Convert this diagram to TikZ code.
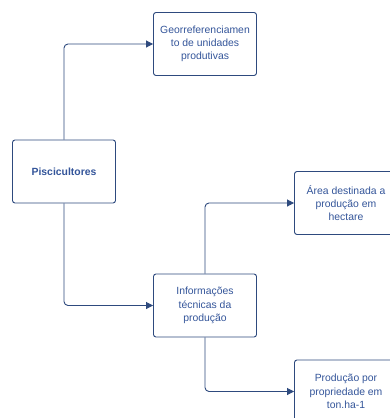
\documentclass[tikz,border=0pt]{standalone}
\usepackage{fontspec}
\setmainfont{Liberation Sans}
\usetikzlibrary{arrows.meta}
\definecolor{lineblue}{HTML}{2E4A7E}
\definecolor{textblue}{HTML}{34559A}
\begin{document}
\begin{tikzpicture}[x=1pt,y=-1pt,
  box/.style={draw=lineblue, line width=0.9pt, rounded corners=2.5pt, fill=white,
    minimum width=103pt, minimum height=63pt, align=center, text=textblue,
    font=\fontsize{10.4}{13.3}\selectfont, inner sep=1pt},
  conn/.style={draw=lineblue, line width=0.9pt, rounded corners=4pt,
    -{Triangle[length=7pt,width=7pt]}}]
\useasboundingbox (0,0) rectangle (390,418);
\clip (0,0) rectangle (390,418);
\node[box] (geo) at (205,44) {Georreferenciamen\\to de unidades\\produtivas};
\node[box] (pisc) at (64,171.5) {\textbf{Piscicultores}};
\node[box] (info) at (205,305.5) {Informações\\técnicas da\\produção};
\node[box] (area) at (346,203) {Área destinada a\\produção em\\hectare};
\node[box] (prod) at (346,391.5) {Produção por\\propriedade em\\ton.ha-1};
\draw[conn] (pisc.north) |- (geo.west);
\draw[conn] (pisc.south) |- (info.west);
\draw[conn] (info.north) |- (area.west);
\draw[conn] (info.south) |- (prod.west);
\end{tikzpicture}
\end{document}
